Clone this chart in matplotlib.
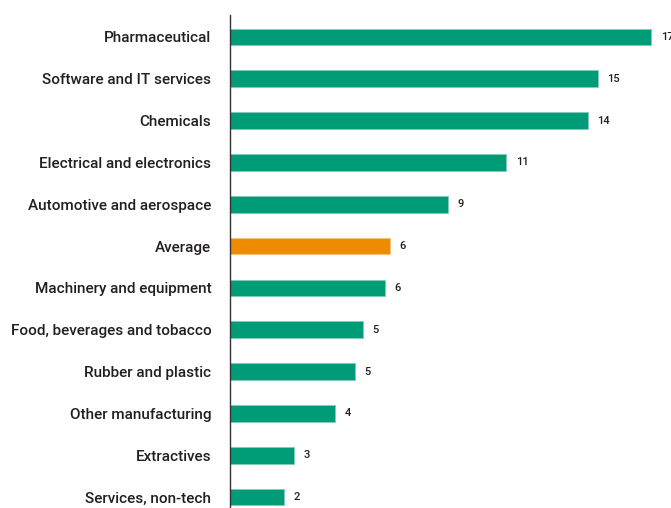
import numpy as np
import matplotlib.pyplot as plt

# sectors, top to bottom
sectors = ['Pharmaceutical', 'Software and IT services', 'Chemicals',
           'Electrical and electronics', 'Automotive and aerospace', 'Average',
           'Machinery and equipment', 'Food, beverages and tobacco',
           'Rubber and plastic', 'Other manufacturing', 'Extractives',
           'Services, non-tech']
values = [16.85, 14.7, 14.3, 11.05, 8.7, 6.4, 6.2, 5.3, 5.0, 4.2, 2.55, 2.15]
value_labels = ['17', '15', '14', '11', '9', '6', '6', '5', '5', '4', '3', '2']

green = '#009b77'
orange = '#f08a00'
colors = [orange if s == 'Average' else green for s in sectors]

plt.rcParams['font.family'] = ['Roboto', 'DejaVu Sans']

fig = plt.figure(figsize=(6.71, 5.08), dpi=100)
ax = fig.add_axes([230 / 671, 0, 1 - 230 / 671, 1 - 15 / 508])

y = np.arange(len(sectors))
ax.barh(y, values, height=0.4, color=colors, edgecolor='#7fcdb8', linewidth=0.6)
for i in range(len(sectors)):
    if sectors[i] == 'Average':
        ax.patches[i].set_edgecolor('#f7c27a')

for yi, v, lab in zip(y, values, value_labels):
    ax.annotate(lab, (v, yi), xytext=(7, 0), textcoords='offset points',
                va='center', ha='left', fontsize=8, fontweight='medium',
                color='#231f20')

ax.set_yticks(y)
ax.set_yticklabels(sectors, fontsize=11, fontweight='medium', color='#231f20')
ax.tick_params(axis='y', length=0, pad=13.5)
ax.set_xticks([])
ax.set_xlim(0, 17.64)
ax.set_ylim(11.263, -0.526)

for side in ['top', 'right', 'bottom']:
    ax.spines[side].set_visible(False)
ax.spines['left'].set_color('#333333')
ax.spines['left'].set_linewidth(1.0)

fig.savefig('out.png', dpi=100)
